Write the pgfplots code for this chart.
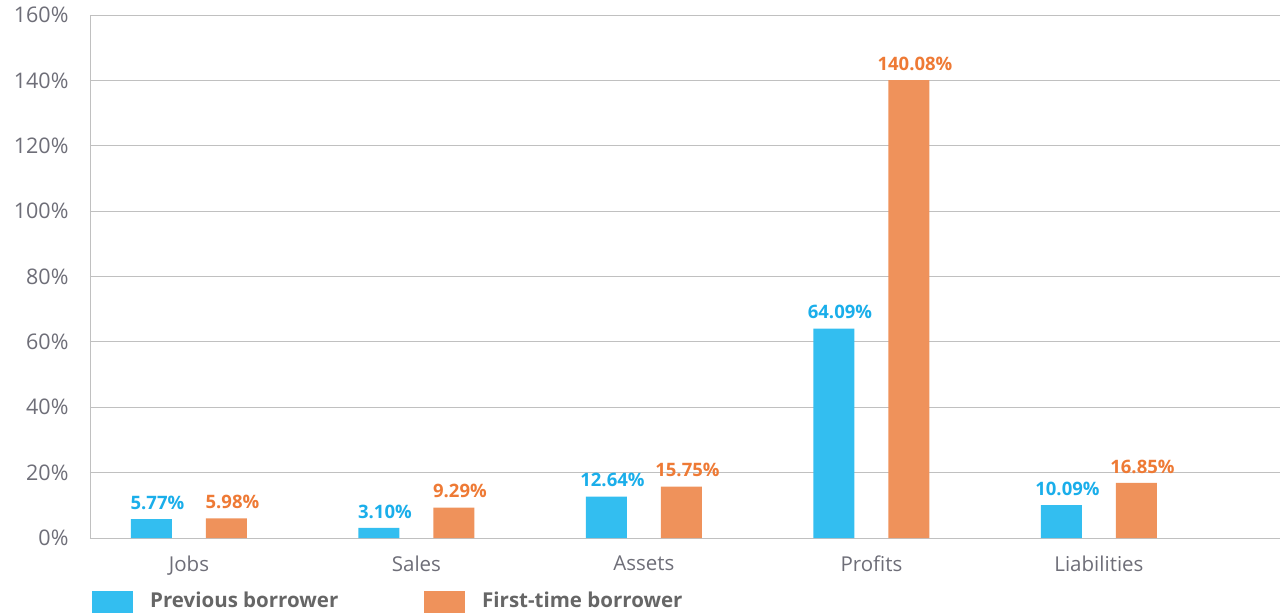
\documentclass[border=0pt]{standalone}
\usepackage{pgfplots}
\pgfplotsset{compat=1.18}
\usepackage{fontspec}
\setmainfont{Open Sans}
\definecolor{bblue}{HTML}{33BEF0}
\definecolor{bblueT}{HTML}{1AAEEA}
\definecolor{borange}{HTML}{EF925B}
\definecolor{borangeT}{HTML}{EE7A35}
\definecolor{tickgrey}{HTML}{6E6E78}
\definecolor{leggrey}{HTML}{666666}
\definecolor{gridgrey}{HTML}{C0C0C0}
\begin{document}
\begin{tikzpicture}
\useasboundingbox (-90pt,-76pt) rectangle (1191pt,538pt);
\begin{axis}[
  at={(0,0)}, anchor=south west,
  width=1190pt, height=523pt, scale only axis,
  xmin=-0.435, xmax=4.796, ymin=0, ymax=160,
  axis x line*=bottom, axis y line*=left,
  axis line style={-, draw=gridgrey, line width=0.8pt},
  ytick={0,20,...,160},
  yticklabel={\pgfmathprintnumber{\tick}\%},
  ymajorgrids, grid style={draw=gridgrey, line width=0.8pt},
  major tick length=0pt,
  xtick={0,1,2,3,4},
  xticklabels={Jobs,Sales,Assets,Profits,Liabilities},
  tick label style={font=\fontsize{20.5}{24}\selectfont, text=tickgrey},
  x tick label style={yshift=-14pt},
  y tick label style={font=\fontsize{21.5}{24}\selectfont, xshift=-18pt},
  /pgf/number format/assume math mode=true,
  ybar, bar width=41pt,
  nodes near coords={\pgfmathprintnumber[fixed,fixed zerofill,precision=2]{\pgfplotspointmeta}\%},
  nodes near coords style={font=\bfseries\fontsize{18.5}{20}\selectfont, anchor=south, yshift=6pt, xshift=6pt},
  legend image code/.code={\fill[#1] (0pt,-13pt) rectangle (41pt,9pt);},
  legend columns=2,
  legend style={at={(0,0)}, anchor=north west, xshift=2pt, yshift=-53pt,
    draw=none, fill=none, inner sep=0pt, column sep=17pt,
    font=\bfseries\fontsize{20.5}{24}\selectfont, text=leggrey,
    nodes={inner sep=0pt}},
  legend cell align=left,
]
\addplot[fill=bblue, draw=none, bar shift=-37.5pt, every node near coord/.append style={text=bblueT}]
  coordinates {(0,5.77) (1,3.10) (2,12.64) (3,64.09) (4,10.09)};
\addlegendentry{\makebox[257pt][l]{Previous borrower}}
\addplot[fill=borange, draw=none, bar shift=37.5pt, every node near coord/.append style={text=borangeT}]
  coordinates {(0,5.98) (1,9.29) (2,15.75) (3,140.08) (4,16.85)};
\addlegendentry{First-time borrower}
\end{axis}
\end{tikzpicture}
\end{document}
